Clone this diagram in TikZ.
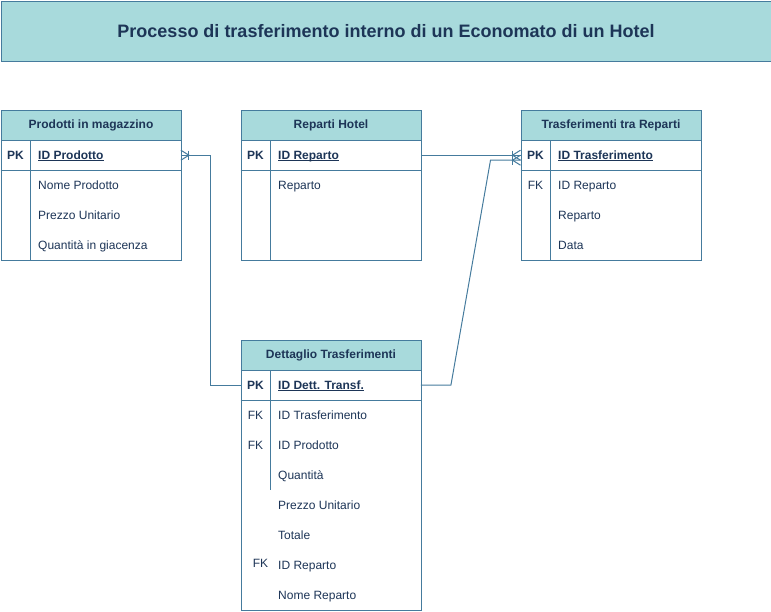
\documentclass[tikz,border=0pt]{standalone}
\usepackage{fontspec}
\setmainfont{Liberation Sans}
\usetikzlibrary{calc}
\definecolor{hdr}{HTML}{A8DADC}
\definecolor{strk}{HTML}{457B9D}
\definecolor{txt}{HTML}{1D3557}
\newcommand{\uln}[1]{\setbox0\hbox{#1}\rlap{\rule[-1.8pt]{\wd0}{0.9pt}}\box0}
\newcommand{\crowfoot}[2]{\begin{scope}[shift={(#1)},xscale=#2]
  \draw[conn] (0,-5) -- (8,0) -- (0,5);
  \draw[conn] (8,-4.5) -- (8,4.5);
\end{scope}}
\begin{document}
\begin{tikzpicture}[x=1pt,y=-1pt,
  conn/.style={draw=strk, line width=1pt},
  outerbox/.style={draw=strk, line width=1pt, fill=white, minimum width=180pt, anchor=north west, inner sep=0pt},
  hdrbox/.style={draw=strk, line width=1pt, fill=hdr, minimum width=180pt, minimum height=30pt, anchor=north west, inner sep=0pt, font=\bfseries\fontsize{12}{14}\selectfont, text=txt},
  rowbox/.style={minimum width=180pt, minimum height=30pt, anchor=north west, inner sep=0pt},
  keytxt/.style={font=\bfseries\fontsize{12}{14}\selectfont, text=txt, anchor=base, inner sep=0pt},
  fktxt/.style={font=\fontsize{12}{14}\selectfont, text=txt, anchor=base, inner sep=0pt},
  pktxt/.style={font=\bfseries\fontsize{12}{14}\selectfont, text=txt, anchor=base west, inner sep=0pt},
  fieldtxt/.style={font=\fontsize{12}{14}\selectfont, text=txt, anchor=base west, inner sep=0pt}
]
\useasboundingbox (0,0) rectangle (771,611);

% title
\node[draw=strk, line width=1pt, fill=hdr, anchor=north west, minimum width=770pt, minimum height=60pt, inner sep=0pt,
  font=\bfseries\fontsize{18}{20}\selectfont, text=txt] (title) at (0.5,0.5)
  {Processo di trasferimento interno di un Economato di un Hotel};

% ---------- Prodotti in magazzino ----------
\node[outerbox, minimum height=150pt] (tP) at (0.5,110) {};
\node[hdrbox] (hP) at (0.5,110) {Prodotti in magazzino};
\node[rowbox] (pkP) at (0.5,140) {};
\draw[conn] (pkP.south west) -- (pkP.south east);
\draw[conn] (30.5,140) -- (30.5,260);
\node[keytxt] (kP1) at (15.5,159.3) {PK};
\node[pktxt] (fP1) at (38,159.3) {\uln{ID Prodotto}};
\node[fieldtxt] (fP2) at (38,189.3) {Nome Prodotto};
\node[fieldtxt] (fP3) at (38,219.3) {Prezzo Unitario};
\node[fieldtxt] (fP4) at (38,249.3) {Quantità in giacenza};

% ---------- Reparti Hotel ----------
\node[outerbox, minimum height=150pt] (tR) at (240.5,110) {};
\node[hdrbox] (hR) at (240.5,110) {Reparti Hotel};
\node[rowbox] (pkR) at (240.5,140) {};
\draw[conn] (pkR.south west) -- (pkR.south east);
\draw[conn] (270.5,140) -- (270.5,260);
\node[keytxt] (kR1) at (255.5,159.3) {PK};
\node[pktxt] (fR1) at (278,159.3) {\uln{ID Reparto}};
\node[fieldtxt] (fR2) at (278,189.3) {Reparto};

% ---------- Trasferimenti tra Reparti ----------
\node[outerbox, minimum height=150pt] (tT) at (520.5,110) {};
\node[hdrbox] (hT) at (520.5,110) {Trasferimenti tra Reparti};
\node[rowbox] (pkT) at (520.5,140) {};
\draw[conn] (pkT.south west) -- (pkT.south east);
\draw[conn] (550.5,140) -- (550.5,260);
\node[keytxt] (kT1) at (535.5,159.3) {PK};
\node[pktxt] (fT1) at (558,159.3) {\uln{ID Trasferimento}};
\node[fktxt] (kT2) at (535.5,189.3) {FK};
\node[fieldtxt] (fT2) at (558,189.3) {ID Reparto};
\node[fieldtxt] (fT3) at (558,219.3) {Reparto};
\node[fieldtxt] (fT4) at (558,249.3) {Data};

% ---------- Dettaglio Trasferimenti ----------
\node[outerbox, minimum height=270pt] (tD) at (240.5,340) {};
\node[hdrbox] (hD) at (240.5,340) {Dettaglio Trasferimenti};
\node[rowbox] (pkD) at (240.5,370) {};
\draw[conn] (pkD.south west) -- (pkD.south east);
\draw[conn] (270.5,370) -- (270.5,490);
\node[keytxt] (kD1) at (255.5,389.3) {PK};
\node[pktxt] (fD1) at (278,389.3) {\uln{ID Dett. Transf.}};
\node[fktxt] (kD2) at (255.5,419.3) {FK};
\node[fieldtxt] (fD2) at (278,419.3) {ID Trasferimento};
\node[fktxt] (kD3) at (255.5,449.3) {FK};
\node[fieldtxt] (fD3) at (278,449.3) {ID Prodotto};
\node[fieldtxt] (fD4) at (278,479.3) {Quantità};
\node[fieldtxt] (fD5) at (278,509.3) {Prezzo Unitario};
\node[fieldtxt] (fD6) at (278,539.3) {Totale};
\node[fktxt] (kD7) at (260.5,567.8) {FK};
\node[fieldtxt] (fD7) at (278,569.3) {ID Reparto};
\node[fieldtxt] (fD8) at (278,599.3) {Nome Reparto};

% ---------- connectors ----------
\draw[conn] (pkP.east) -- ++(30,0) |- (pkD.west);
\crowfoot{pkP.east}{1}
\draw[conn] (pkR.east) -- (pkT.west);
\crowfoot{pkT.west}{-1}
\coordinate (tIn) at ($(pkT.west)+(0,5)$);
\draw[conn] (pkD.east) -- ++(30,0) -- ($(tIn)+(-30,0)$) -- (tIn);
\crowfoot{tIn}{-1}
\end{tikzpicture}
\end{document}
